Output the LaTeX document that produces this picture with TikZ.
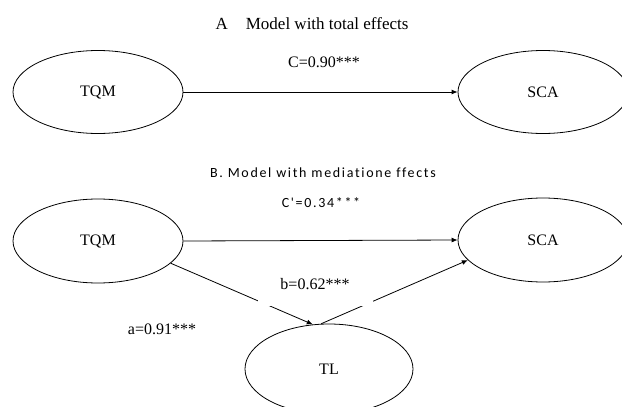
\documentclass[tikz,border=0pt]{standalone}
\usepackage{fontspec}
\setmainfont{Liberation Serif}
\newfontfamily\calib[LetterSpace=12,Ligatures={NoCommon}]{Carlito}
\usetikzlibrary{shapes.geometric,arrows.meta}
\begin{document}
\begin{tikzpicture}[x=1pt,y=-1pt,
  ell/.style={draw, ellipse, line width=0.8pt, minimum width=170pt, minimum height=84pt, inner sep=0pt, font=\fontsize{16}{18}\selectfont},
  arr/.style={line width=0.8pt, -{Latex[length=6pt,width=5pt]}},
  serifl/.style={font=\fontsize{16}{18}\selectfont, inner sep=0pt},
  sansl/.style={font=\calib\fontsize{14}{16}\selectfont, inner sep=0pt}]
\useasboundingbox (0,0) rectangle (622,407);
% Model A
\node[ell, minimum height=83pt] (tqmA) at (98,92) {TQM};
\node[ell, minimum height=83pt] (scaA) at (543,92) {SCA};
\draw[arr] (tqmA.east) -- (scaA.west);
\node[serifl, font=\fontsize{17}{19}\selectfont] (titleA) at (312,24) {A\hspace{18pt}Model with total effects};
\node[serifl] (cA) at (324,62) {C=0.90***};
% Model B
\node[ell] (tqmB) at (98,241) {TQM};
\node[ell] (scaB) at (543,240) {SCA};
\node[ell, minimum width=168pt, minimum height=90pt] (tl) at (329,369) {TL};
\draw[arr] (tqmB.east) -- (scaB.west);
\draw[arr] (tqmB.-17) -- (tl.110);
\draw[arr] (tl.100) -- (scaB.195);
\node[sansl] (titleB) at (323,173) {B. Model with mediatione ffects};
\node[sansl] (cB) at (321,203) {C'=0.34***};
\node[serifl, fill=white, minimum width=115pt, minimum height=44pt] (bl) at (315,284) {b=0.62***};
\node[serifl] (al) at (162,329) {a=0.91***};
\end{tikzpicture}
\end{document}
